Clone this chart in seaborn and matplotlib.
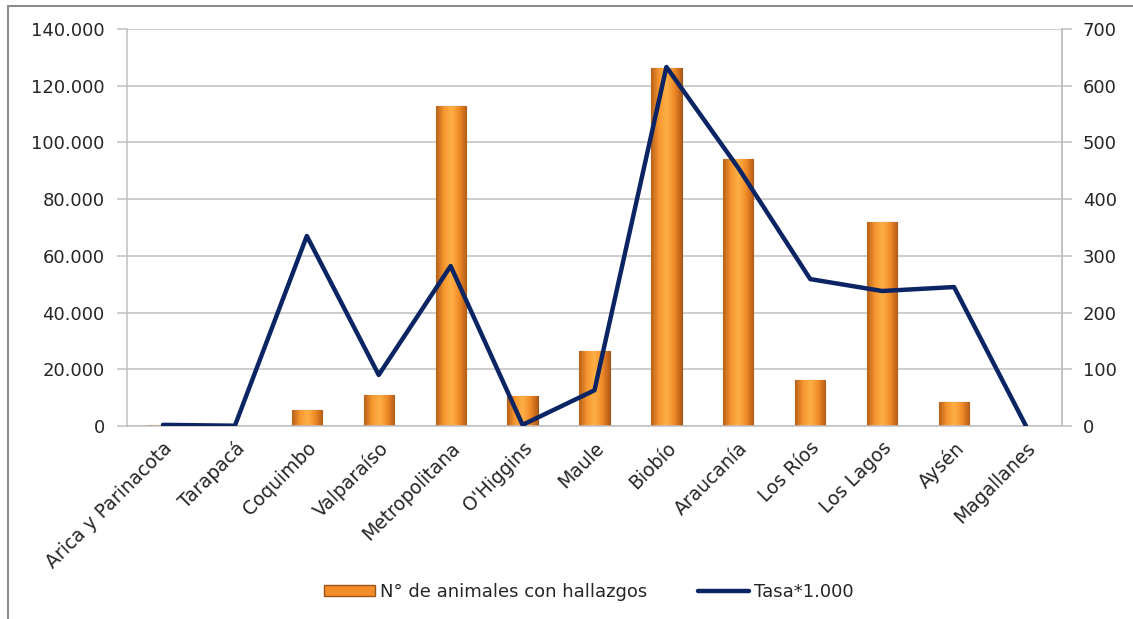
import matplotlib.pyplot as plt
import matplotlib.colors as mcolors
from matplotlib.lines import Line2D
from matplotlib.patches import Patch
import matplotlib.ticker as mticker
import seaborn as sns
import numpy as np
import pandas as pd

# Data
regiones = ["Arica y Parinacota", "Tarapacá", "Coquimbo", "Valparaíso", "Metropolitana",
            "O'Higgins", "Maule", "Biobío", "Araucanía", "Los Ríos", "Los Lagos",
            "Aysén", "Magallanes"]
animales = [300, 0, 5800, 10800, 113000, 10500, 26400, 126200, 94100, 16200, 71900, 8500, 0]
tasa = [2, 0.5, 335, 90, 282, 2, 63, 633, 455, 259, 238, 245, 0]

df = pd.DataFrame({"region": regiones, "animales": animales, "tasa": tasa})

sns.set_theme(style="white")
plt.rcParams['font.family'] = ['DejaVu Sans']

fig = plt.figure(figsize=(11.33, 6.19), dpi=100)
ax = fig.add_axes([0.1121, 0.3118, 0.8252, 0.6414])

bar_color = "#F28C28"
line_color = "#0B2464"
grid_color = "#C0C0C0"

sns.barplot(data=df, x="region", y="animales", color=bar_color, width=0.42,
            edgecolor="#9C5518", linewidth=0.8, saturation=1, ax=ax, zorder=2)

# gradient fill on bars (dark edges, bright middle)
cmap = mcolors.LinearSegmentedColormap.from_list(
    "bar", ["#B8621C", "#F7962E", "#FFB048", "#F28C28", "#B45C18"])
grad = np.linspace(0, 1, 64).reshape(1, -1)
for p in ax.patches:
    x0, y0 = p.get_x(), p.get_y()
    w, h = p.get_width(), p.get_height()
    if h <= 0:
        continue
    im = ax.imshow(grad, cmap=cmap, aspect="auto", extent=[x0, x0 + w, y0, y0 + h],
                   zorder=2.1, interpolation="bicubic")
    im.set_clip_path(p)

ax.set_xlim(-0.5, len(regiones) - 0.5)
ax.set_ylim(0, 140000)
ax.set_yticks(np.arange(0, 140001, 20000))
ax.yaxis.set_major_formatter(mticker.FuncFormatter(lambda v, _: f"{int(v):,}".replace(",", ".")))
ax.yaxis.grid(True, color=grid_color, lw=1.1, zorder=0)
ax.set_axisbelow(True)
ax.set_xlabel("")
ax.set_ylabel("")

# x ticks between categories like Excel
ax.set_xticks(np.arange(len(regiones)))
ax.set_xticklabels(regiones, rotation=45, ha="right", rotation_mode="anchor", fontsize=13.5)
ax.tick_params(axis="x", which="major", length=0, pad=9)
ax.set_xticks(np.arange(-0.5, len(regiones)), minor=True)
ax.tick_params(axis="x", which="minor", length=7, color=grid_color, width=1.1)
ax.tick_params(axis="y", length=7, color=grid_color, width=1.1, labelsize=13, left=True, pad=9)

ax.spines["top"].set_visible(False)
for side in ["left", "bottom", "right"]:
    ax.spines[side].set_color(grid_color)
    ax.spines[side].set_linewidth(1.1)

ax2 = ax.twinx()
sns.lineplot(x=np.arange(len(regiones)), y=df["tasa"], color=line_color, lw=3.2,
             ax=ax2, zorder=3)
ax2.set_ylim(0, 700)
ax2.set_yticks(np.arange(0, 701, 100))
ax2.set_ylabel("")
ax2.tick_params(axis="y", length=7, color=grid_color, width=1.1, labelsize=13, right=True, pad=8)
ax2.spines["top"].set_visible(False)
ax2.spines["left"].set_visible(False)
ax2.spines["bottom"].set_visible(False)
ax2.spines["right"].set_color(grid_color)
ax2.spines["right"].set_linewidth(1.1)
ax.set_xlim(-0.5, len(regiones) - 0.5)

# legend
handles = [Patch(facecolor=bar_color, edgecolor="#9C5518"),
           Line2D([0], [0], color=line_color, lw=3.2)]
labels = ["N° de animales con hallazgos", "Tasa*1.000"]
fig.legend(handles, labels, loc="center", bbox_to_anchor=(0.52, 0.044), ncol=2,
           frameon=False, fontsize=13, handlelength=2.8, handleheight=0.6,
           handletextpad=0.3, columnspacing=2.8)

# outer chart frame
fig.add_artist(Line2D([8 / 1133, 8 / 1133], [0, 1 - 6 / 619], transform=fig.transFigure,
                      color="#8C8C8C", lw=1.5))
fig.add_artist(Line2D([8 / 1133, 1], [1 - 6 / 619, 1 - 6 / 619], transform=fig.transFigure,
                      color="#8C8C8C", lw=1.5))

fig.savefig("out.png", dpi=100)
